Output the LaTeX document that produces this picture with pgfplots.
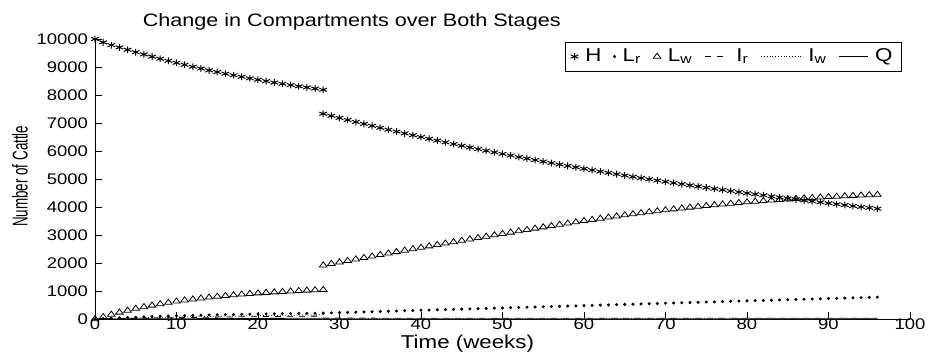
\documentclass[border=0pt]{standalone}
\usepackage{fontspec}
\setmainfont{Liberation Sans}[FakeStretch=1.2]
\newfontfamily\ylfont{Liberation Sans}
\usepackage{graphicx}
\usepackage{pgfplots}
\usepackage{pgfplotstable}
\pgfplotsset{compat=1.18}
\pgfplotsset{
  markleg/.style={legend image code/.code={\draw[mark repeat=2,mark phase=2,##1] plot coordinates {(0cm,0cm) (0.28cm,0cm) (0.56cm,0cm)};}},
  lineleg/.style={legend image code/.code={\draw[##1] (0cm,0cm) -- (#1,0cm);}},
}

% Stage 1 (weeks 0-28)
\pgfplotstableread{
t H Lw Lr Ir Iw Q
0 10000 0 0 0 0 0
1 9880 75 14 5 8 1
2 9780 160 28 10 16 2
3 9700 235 41 15 24 3
4 9615 305 53 20 31 4
5 9530 370 65 25 38 5
6 9450 430 76 30 45 6
7 9370 485 86 35 52 7
8 9295 535 96 40 58 8
9 9220 585 105 44 64 9
10 9150 630 114 48 70 10
11 9080 670 122 52 76 11
12 9010 705 130 56 81 12
13 8945 740 137 60 86 13
14 8880 772 144 64 91 14
15 8820 802 151 68 96 15
16 8760 830 157 72 101 16
17 8705 855 163 75 106 17
18 8650 880 169 78 111 18
19 8595 902 174 81 115 19
20 8545 922 179 84 119 20
21 8495 940 184 87 123 21
22 8445 958 188 90 127 22
23 8400 975 192 93 131 23
24 8355 990 196 96 135 24
25 8310 1005 200 99 139 25
26 8270 1020 203 101 143 26
27 8230 1033 206 103 147 27
28 8185 1045 209 105 150 28
}\stageone

% Stage 2 (weeks 28-96)
\pgfplotstableread{
t H Lw Lr
28 7330 1920 210
29 7256 1974 218
30 7182 2028 227
31 7110 2081 235
32 7038 2134 244
33 6968 2187 252
34 6898 2240 260
35 6829 2292 269
36 6761 2344 277
37 6694 2396 286
38 6628 2448 294
39 6563 2499 302
40 6498 2550 311
41 6435 2601 319
42 6372 2651 328
43 6310 2701 336
44 6248 2751 344
45 6188 2801 353
46 6128 2850 361
47 6069 2899 370
48 6011 2948 378
49 5953 2996 386
50 5897 3044 395
51 5841 3092 403
52 5785 3140 412
53 5731 3187 420
54 5677 3234 428
55 5624 3280 437
56 5571 3326 445
57 5519 3371 454
58 5468 3416 462
59 5418 3460 470
60 5368 3504 479
61 5318 3547 487
62 5270 3589 496
63 5222 3630 504
64 5174 3670 512
65 5128 3709 521
66 5081 3747 529
67 5036 3784 538
68 4991 3820 546
69 4946 3855 554
70 4903 3889 563
71 4859 3922 571
72 4817 3954 580
73 4774 3985 588
74 4733 4015 596
75 4692 4044 605
76 4651 4072 613
77 4611 4099 622
78 4571 4125 630
79 4532 4150 638
80 4494 4174 647
81 4456 4197 655
82 4418 4219 664
83 4381 4240 672
84 4344 4260 680
85 4308 4279 689
86 4272 4297 697
87 4237 4314 706
88 4202 4330 714
89 4168 4346 722
90 4134 4361 731
91 4101 4376 739
92 4068 4390 748
93 4035 4404 756
94 4003 4417 764
95 3971 4430 773
96 3940 4442 781
}\stagetwo

\pgfplotstableread{
t Ir Iw Q
28 32 14 6
32 31 15 7
36 30 16 7
40 29 17 8
44 28 18 8
48 27 19 9
52 27 20 9
56 26 20 10
60 26 21 10
64 25 22 11
68 25 22 11
72 24 23 12
76 24 23 12
80 23 24 13
84 23 24 13
88 22 25 14
92 22 25 14
96 22 26 15
}\stagetwosmall

\begin{document}
\begin{tikzpicture}
\begin{axis}[
  at={(0,0)}, anchor=south west,
  scale only axis,
  width=407.5pt, height=140pt,
  xmin=0, xmax=100, ymin=0, ymax=10000,
  enlargelimits=false,
  clip=false,
  scaled y ticks=false, scaled x ticks=false,
  axis x line*=bottom, axis y line*=left,
  axis line style={black, line width=0.4pt},
  xtick={0,10,...,100},
  ytick={0,1000,...,10000},
  tick align=inside,
  major tick length=3.5pt,
  tick style={black, line width=0.4pt},
  tick label style={font=\fontsize{7.7}{9}\selectfont},
  xticklabel style={yshift=3.8pt},
  yticklabel style={xshift=0pt},
  /pgf/number format/1000 sep={},
  /pgf/number format/assume math mode=true,
  title={Change in Compartments over Both Stages},
  every axis title shift=0pt,
  title style={font=\fontsize{9.0}{11}\selectfont, at={(0.315,1)}, anchor=base, yshift=6.5pt},
  xlabel={Time (weeks)},
  xlabel style={font=\fontsize{9.3}{11}\selectfont, at={(0.457,0)}, anchor=base, yshift=-14.5pt},
  ylabel={\ylfont\fontsize{6.7}{8}\selectfont\scalebox{1}[1.6]{Number of Cattle}},
  ylabel style={at={(0,0.51)}, anchor=center, yshift=37.5pt},
  legend columns=-1,
  legend style={at={(0.99,0.99)}, anchor=north east,
    font=\fontsize{9.3}{11}\selectfont, draw=black, line width=0.4pt,
    inner xsep=2.5pt, inner ysep=1.2pt,
    /tikz/every odd column/.append style={column sep=1.5pt},
    /tikz/every even column/.append style={column sep=4pt}},
]
% H
\addplot[only marks, black, mark=asterisk, mark size=1.7pt, mark options={xscale=1.3, line width=0.5pt}, markleg] table[x=t, y=H] {\stageone};
\addlegendentry{H}
% Lr
\addplot[only marks, black, mark=*, mark size=0.55pt, markleg] table[x=t, y=Lr] {\stageone};
\addlegendentry{L\textsubscript{r}}
% Lw
\addplot[only marks, black, mark=triangle, mark size=1.7pt, mark options={xscale=1.3, line width=0.4pt}, markleg] table[x=t, y=Lw] {\stageone};
\addlegendentry{L\textsubscript{w}}
% Ir
\addplot[black, dashed, line width=0.4pt, lineleg=0.42cm] table[x=t, y=Ir] {\stageone};
\addlegendentry{I\textsubscript{r}}
% Iw
\addplot[black, densely dotted, line width=0.4pt, lineleg=0.7cm] table[x=t, y=Iw] {\stageone};
\addlegendentry{I\textsubscript{w}}
% Q
\addplot[black, line width=0.4pt, lineleg=0.5cm] table[x=t, y=Q] {\stageone};
\addlegendentry{Q}

% Stage 2
\addplot[only marks, black, mark=asterisk, mark size=1.7pt, mark options={xscale=1.3, line width=0.5pt}, forget plot] table[x=t, y=H] {\stagetwo};
\addplot[only marks, black, mark=*, mark size=0.55pt, forget plot] table[x=t, y=Lr] {\stagetwo};
\addplot[only marks, black, mark=triangle, mark size=1.7pt, mark options={xscale=1.3, line width=0.4pt}, forget plot] table[x=t, y=Lw] {\stagetwo};
\addplot[black, dashed, line width=0.4pt, forget plot] table[x=t, y=Ir] {\stagetwosmall};
\addplot[black, densely dotted, line width=0.4pt, forget plot] table[x=t, y=Iw] {\stagetwosmall};
\addplot[black!70, line width=0.4pt, forget plot] table[x=t, y=Q] {\stagetwosmall};
\end{axis}
\path (-47.5pt,-19.5pt) rectangle (419pt,159.5pt);
\end{tikzpicture}
\end{document}
